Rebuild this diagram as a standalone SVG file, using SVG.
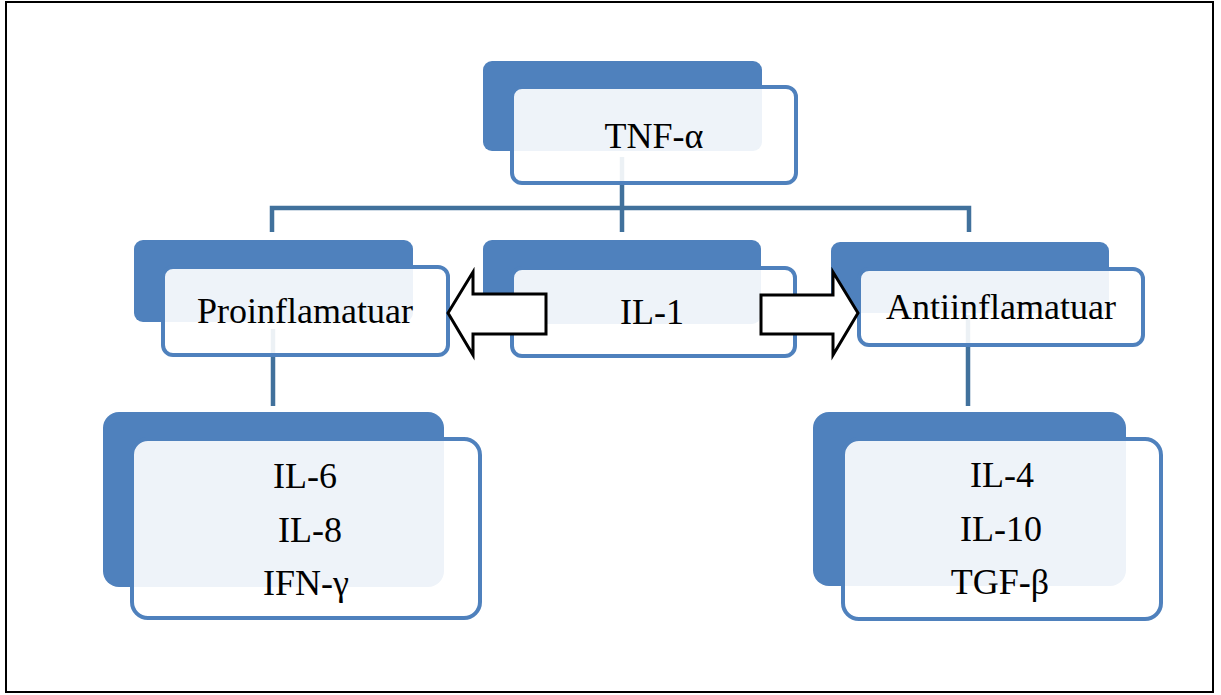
<svg xmlns="http://www.w3.org/2000/svg" width="1221" height="695" viewBox="0 0 1221 695">
<style>
.back{fill:#4F81BD}
.front{fill:#FFFFFF;fill-opacity:0.9;stroke:#4F81BD;stroke-width:4}
.conn{fill:none;stroke:#41719C;stroke-width:4.5}
.t{font-family:"Liberation Serif","Times New Roman",serif;font-size:36px;fill:#000;text-anchor:middle}
.arrow{fill:#FFFFFF;stroke:#000;stroke-width:3;stroke-linejoin:miter}
</style>
<rect x="0" y="0" width="1221" height="695" fill="#FFFFFF"/>
<rect x="6" y="2" width="1207" height="690" fill="none" stroke="#000" stroke-width="2"/>
<g id="connectors">
<path class="conn" d="M622 157 V232 M272 232 V208 H969 V232 M273 329 V406 M968 315 V406"/>
</g>
<g id="node-tnf">
<rect class="back" x="483" y="61" width="279" height="90" rx="9"/>
<rect class="front" x="512" y="87" width="284" height="96" rx="10"/>
<text class="t" x="654" y="148">TNF-α</text>
</g>
<g id="node-pro">
<rect class="back" x="134" y="240" width="279" height="82" rx="9"/>
<rect class="front" x="163" y="267" width="285" height="88" rx="10"/>
<text class="t" x="305" y="323">Proinflamatuar</text>
</g>
<g id="node-il1">
<rect class="back" x="483" y="240" width="278" height="84" rx="9"/>
<rect class="front" x="512" y="268" width="283" height="88" rx="10"/>
<text class="t" x="652" y="324">IL-1</text>
</g>
<g id="node-anti">
<rect class="back" x="831" y="242" width="278" height="71" rx="9"/>
<rect class="front" x="859" y="269" width="284" height="76" rx="10"/>
<text class="t" x="1001" y="319">Antiinflamatuar</text>
</g>
<g id="node-pro-list">
<rect class="back" x="103" y="412" width="341" height="175" rx="16"/>
<rect class="front" x="132" y="439" width="348" height="179" rx="16"/>
<text class="t" x="305" y="488">IL-6</text>
<text class="t" x="310" y="542">IL-8</text>
<text class="t" x="306" y="595">IFN-γ</text>
</g>
<g id="node-anti-list">
<rect class="back" x="813" y="412" width="313" height="174" rx="16"/>
<rect class="front" x="843" y="439" width="318" height="180" rx="16"/>
<text class="t" x="1002" y="487">IL-4</text>
<text class="t" x="1001" y="541">IL-10</text>
<text class="t" x="1000" y="594">TGF-β</text>
</g>
<g id="arrow-left">
<polygon class="arrow" points="448,313 473,272 473,294 546,294 546,334 473,334 473,355"/>
</g>
<g id="arrow-right">
<polygon class="arrow" points="858,313 833,272 833,295 761,295 761,334 833,334 833,355"/>
</g>
</svg>
